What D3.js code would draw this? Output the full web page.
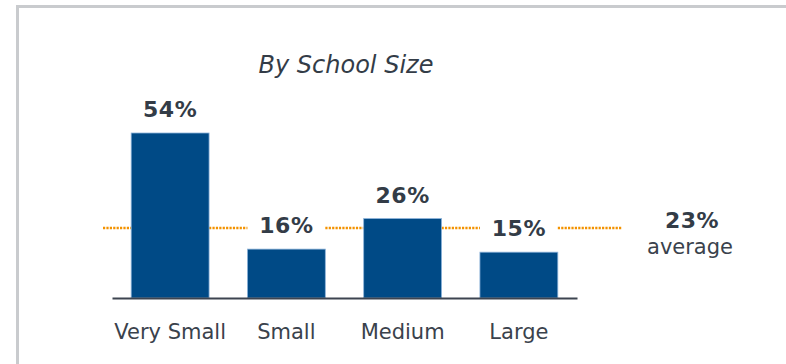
<!DOCTYPE html>
<html>
<head>
<meta charset="utf-8">
<script src="https://cdn.jsdelivr.net/npm/d3@7"></script>
<style>
  body { margin: 0; background: #fff; }
  svg { display: block; }
</style>
</head>
<body>
<div class="chart"></div>
<script>
// chart data
var categories = ["Very Small", "Small", "Medium", "Large"];
var values = [54, 16, 26, 15];
var average = 23;
var title = "By School Size";

var width = 786, height = 364;
var fontFamily = "Verdana, 'DejaVu Sans', sans-serif";

var svg = d3.select(".chart")
        .append("svg")
        .attr("width", width)
        .attr("height", height);

// grey frame (only top and left visible)
svg.append("rect")
        .attr("x", 17.5)
        .attr("y", 6.5)
        .attr("width", 900)
        .attr("height", 500)
        .attr("fill", "#fff")
        .attr("stroke", "#c9cbce")
        .attr("stroke-width", 3);

var x = d3.scaleBand()
        .domain(categories)
        .range([112, 577])
        .paddingInner(0.33)
        .paddingOuter(0.165);

var y = d3.scaleLinear()
        .domain([0, 54])
        .range([298, 133]);

// title
svg.append("text")
        .attr("x", 346)
        .attr("y", 73)
        .attr("text-anchor", "middle")
        .attr("font-family", fontFamily)
        .attr("font-style", "italic")
        .attr("font-size", 24)
        .attr("fill", "#333c47")
        .text(title);

// average dotted line, drawn in the gaps between bars
var gaps = [[103, x(categories[0])]];
for (var i = 0; i < categories.length - 1; i++) {
    gaps.push([x(categories[i]) + x.bandwidth(), x(categories[i + 1])]);
}
gaps.push([x(categories[categories.length - 1]) + x.bandwidth(), 622]);

var avgY = Math.round(y(average));

svg.selectAll(".avg")
        .data(gaps)
        .enter()
        .append("line")
        .attr("class", "avg")
        .attr("x1", function (d) { return d[0]; })
        .attr("x2", function (d) { return d[1]; })
        .attr("y1", avgY)
        .attr("y2", avgY)
        .attr("stroke", "#f39200")
        .attr("stroke-width", 2.5)
        .attr("stroke-dasharray", "2.2,1.2");

// bars
svg.selectAll(".bar")
        .data(values)
        .enter()
        .append("rect")
        .attr("class", "bar")
        .attr("x", function (d, i) { return x(categories[i]); })
        .attr("y", function (d) { return y(d); })
        .attr("width", x.bandwidth())
        .attr("height", function (d) { return y(0) - y(d); })
        .attr("fill", "#004a86")
        .attr("stroke", "#8db3da")
        .attr("stroke-width", 0.8);

// value labels
svg.selectAll(".val")
        .data(values)
        .enter()
        .append("text")
        .attr("class", "val")
        .attr("x", function (d, i) { return x(categories[i]) + x.bandwidth() / 2; })
        .attr("y", function (d) { return y(d) - 16; })
        .attr("text-anchor", "middle")
        .attr("font-family", fontFamily)
        .attr("font-weight", "bold")
        .attr("font-size", 22)
        .attr("letter-spacing", 0.5)
        .attr("fill", "#333c47")
        .text(function (d) { return d + "%"; });

// baseline axis
var axis = svg.append("g")
        .attr("transform", "translate(0," + y(0) + ")")
        .call(d3.axisBottom(x).tickSize(0).tickPadding(26));

axis.select(".domain")
        .attr("stroke", "#3d4450")
        .attr("stroke-width", 2);

axis.selectAll("text")
        .attr("font-family", fontFamily)
        .attr("font-size", 21)
        .attr("fill", "#3a424c");

// average label
svg.append("text")
        .attr("x", 692)
        .attr("y", 228)
        .attr("text-anchor", "middle")
        .attr("font-family", fontFamily)
        .attr("font-weight", "bold")
        .attr("font-size", 22)
        .attr("letter-spacing", 0.5)
        .attr("fill", "#333c47")
        .text(average + "%");

svg.append("text")
        .attr("x", 690)
        .attr("y", 254)
        .attr("text-anchor", "middle")
        .attr("font-family", fontFamily)
        .attr("font-size", 21)
        .attr("fill", "#3a424c")
        .text("average");
</script>
</body>
</html>
